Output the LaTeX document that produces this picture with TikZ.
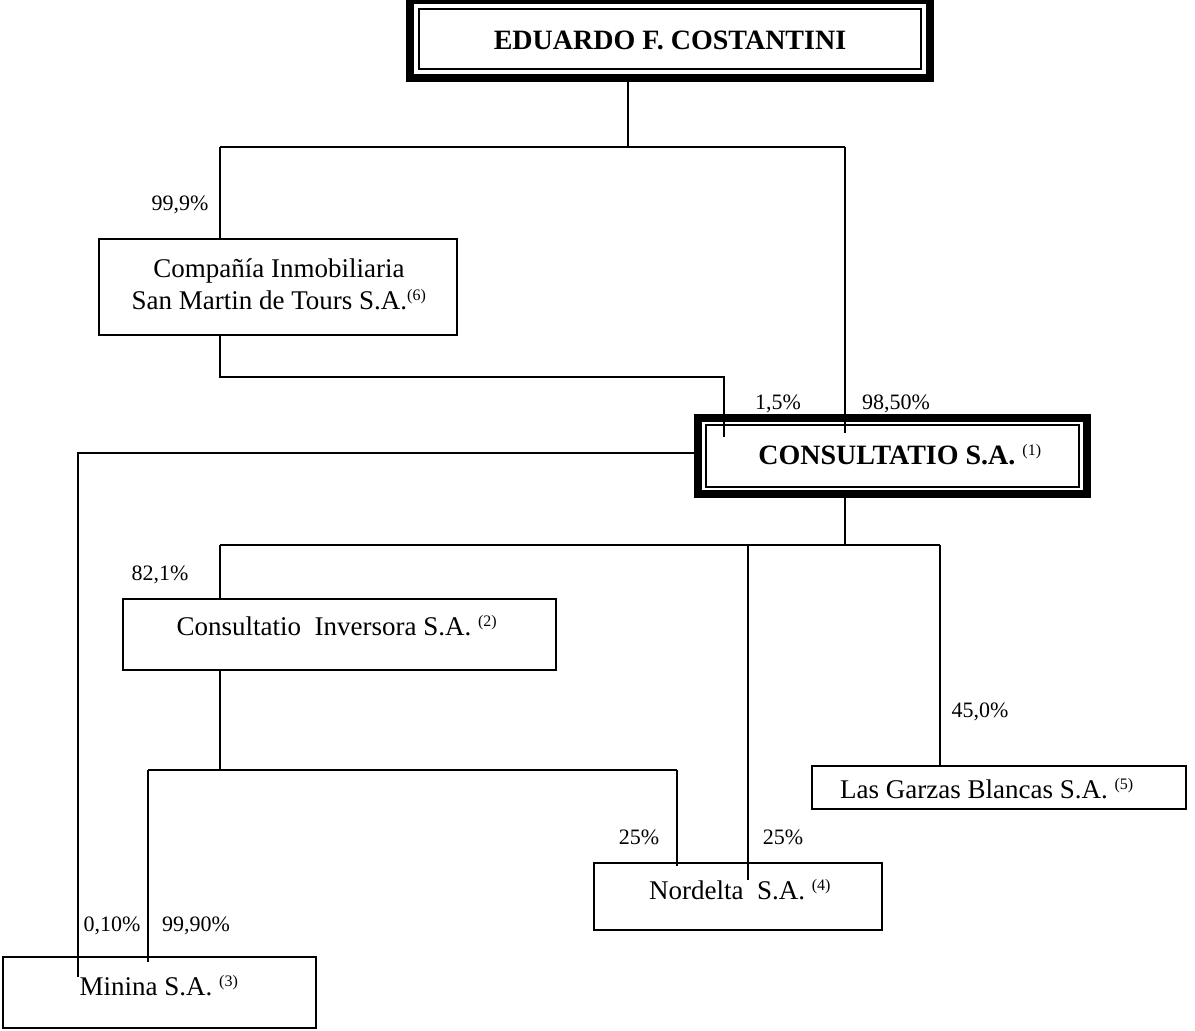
\documentclass[tikz,border=0pt]{standalone}
\usepackage{fontspec}
\setmainfont{Liberation Serif}
\begin{document}
\begin{tikzpicture}[x=1pt,y=-1pt,line width=2pt,
  box/.style={draw,line width=2pt,rectangle,outer sep=0pt,inner sep=0pt},
  bigbox/.style={draw,line width=8pt,rectangle,outer sep=0pt,inner sep=0pt},
  txt/.style={font=\fontsize{27}{32}\selectfont,inner sep=0pt,align=center},
  btxt/.style={font=\fontsize{28}{32}\selectfont\bfseries,inner sep=0pt},
  pct/.style={font=\fontsize{22}{24}\selectfont,inner sep=0pt}]
\useasboundingbox (0,0) rectangle (1195,1031);
\newcommand{\sref}[1]{\textsuperscript{\fontsize{16}{16}\selectfont(#1)}}
% top box
\node[bigbox,minimum width=520pt,minimum height=78pt] (ec) at (670,39) {};
\draw[line width=2pt] ([shift={(9,9)}]ec.north west) rectangle ([shift={(-9,-9)}]ec.south east);
\node[btxt] (ec-t) at (670,40) {EDUARDO F. COSTANTINI};
% Compania
\node[box,minimum width=358pt,minimum height=96pt] (cim) at (278,287) {};
\node[txt] (cim-t) at (279,284) {Compañía Inmobiliaria\\San Martin de Tours S.A.\sref{6}};
% Consultatio
\node[bigbox,minimum width=389pt,minimum height=76pt] (cs) at (892.5,456) {};
\draw[line width=2pt] ([shift={(8,7)}]cs.north west) rectangle ([shift={(-8,-7)}]cs.south east);
\node[btxt] (cs-t) at (900,455) {CONSULTATIO S.A.\ \textsuperscript{\fontsize{16}{16}\selectfont\mdseries(1)}};
% Consultatio Inversora
\node[box,minimum width=433pt,minimum height=71pt] (ci) at (339.5,634.5) {};
\node[txt] (ci-t) at (337,626) {Consultatio\ \ Inversora S.A.\ \sref{2}};
% Las Garzas
\node[box,minimum width=374pt,minimum height=43pt] (lgb) at (999,787.5) {};
\node[txt] (lgb-t) at (987,789) {Las Garzas Blancas S.A.\ \sref{5}};
% Nordelta
\node[box,minimum width=288pt,minimum height=67pt] (nd) at (738,896.5) {};
\node[txt] (nd-t) at (740,890) {Nordelta\ \ S.A.\ \sref{4}};
% Minina
\node[box,minimum width=313pt,minimum height=71pt] (mn) at (159.5,992.5) {};
\node[txt] (mn-t) at (159,986) {Minina S.A.\ \sref{3}};
% junctions
\coordinate (j1) at (628,147);
\coordinate (j1l) at (220,147);
\coordinate (j1r) at (845,147);
\coordinate (e1) at (845,433);
\coordinate (j2) at (220,377);
\coordinate (j2r) at (724,377);
\coordinate (e2) at (724,437);
\coordinate (j3) at (78,453);
\coordinate (e3) at (78,977);
\coordinate (j4) at (845,545);
\coordinate (j4l) at (220,545);
\coordinate (j4m) at (748,545);
\coordinate (j4r) at (940,545);
\coordinate (e4) at (748,880);
\coordinate (j5) at (220,770);
\coordinate (j5l) at (148,770);
\coordinate (j5r) at (677,770);
\coordinate (e5) at (148,962);
\coordinate (e6) at (677,866);
% connectors
\draw (ec.south -| j1) -- (j1);
\draw (j1l) -- (j1r);
\draw (j1l) -- (cim.north -| j1l);
\draw (j1r) -- (e1);
\draw (cim.south -| j2) -- (j2) -- (j2r) -- (e2);
\draw (cs.west |- j3) -- (j3) -- (e3);
\draw (cs.south -| j4) -- (j4);
\draw (j4l) -- (j4r);
\draw (j4l) -- (ci.north -| j4l);
\draw (j4m) -- (e4);
\draw (j4r) -- (lgb.north -| j4r);
\draw (ci.south -| j5) -- (j5);
\draw (j5l) -- (j5r);
\draw (j5l) -- (e5);
\draw (j5r) -- (e6);
% labels
\node[pct] (p1) at (180,205) {99,9\%};
\node[pct] (p2) at (778,404) {1,5\%};
\node[pct] (p3) at (896,404) {98,50\%};
\node[pct] (p4) at (160,575) {82,1\%};
\node[pct] (p5) at (980,712) {45,0\%};
\node[pct] (p6) at (639,837) {25\%};
\node[pct] (p7) at (783,837) {25\%};
\node[pct] (p8) at (112,926) {0,10\%};
\node[pct] (p9) at (196,926) {99,90\%};
\end{tikzpicture}
\end{document}
